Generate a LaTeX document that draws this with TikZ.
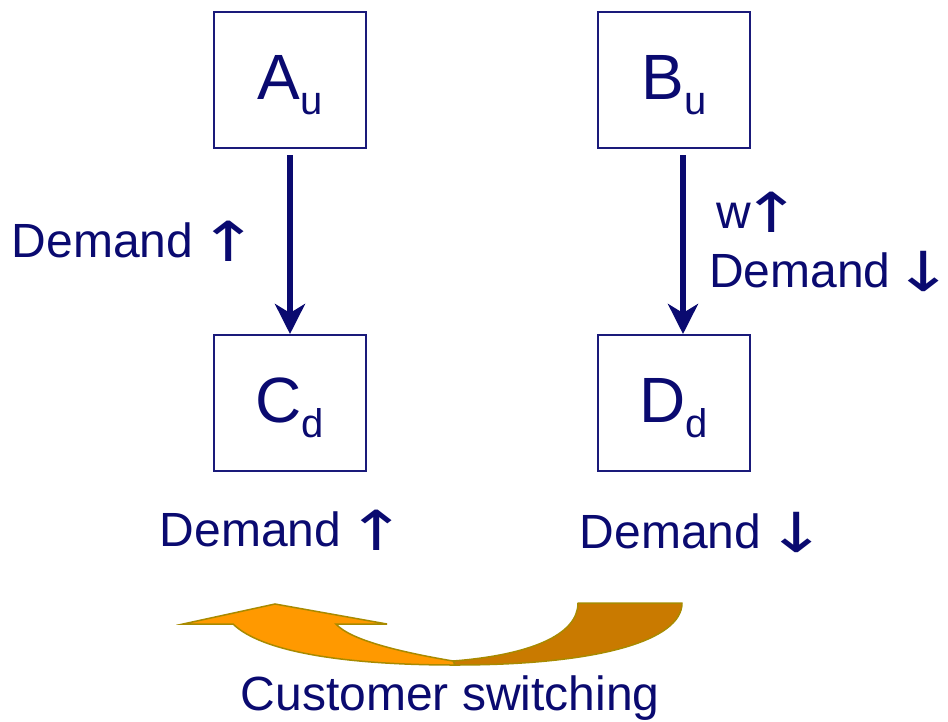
\documentclass[tikz,border=0pt]{standalone}
\usepackage{fontspec}
\setmainfont{Liberation Sans}
\newfontfamily\arrfont{DejaVu Sans}
\usetikzlibrary{arrows.meta}
\definecolor{navy}{HTML}{0A0A70}
\definecolor{boxc}{HTML}{1A1A7A}
\definecolor{orng}{HTML}{FF9900}
\definecolor{dorng}{HTML}{C97A00}
\definecolor{olive}{HTML}{A88A00}
\newcommand{\arrglyph}[1]{\raisebox{-4pt}{\makebox[26pt][c]{\scalebox{1.5}[1.15]{\arrfont #1}}}}
\newcommand{\myup}{\arrglyph{↑}}
\newcommand{\mydown}{\arrglyph{↓}}
\begin{document}
\begin{tikzpicture}[x=1pt,y=-1pt,
  box/.style={draw=boxc, line width=2pt, minimum width=152pt, minimum height=136pt,
    inner sep=0pt, text=navy, font=\fontsize{64}{64}\selectfont,
    text height=46pt, text depth=8pt, anchor=north west},
  lbl/.style={text=navy, font=\fontsize{48}{48}\selectfont, anchor=base west, inner sep=0pt},
  link/.style={draw=navy, line width=6pt, shorten <=6pt,
    -{Stealth[length=30pt,width=30pt,inset=9pt]}}]
\useasboundingbox (0,0) rectangle (948,721);
\newcommand{\subs}[1]{\raisebox{-15pt}{\fontsize{40}{40}\selectfont #1}}
\node[box] (A) at (213,11) {A\subs{u}};
\node[box] (B) at (597,11) {B\subs{u}};
\node[box] (C) at (213,334) {C\subs{d}};
\node[box] (D) at (597,334) {D\subs{d}};
\draw[link] (A.south) -- (C.north);
\draw[link] ([xshift=9pt]B.south) -- ([xshift=9pt]D.north);
\node[lbl] (l1) at (11.5,257) {Demand\hspace{23pt}\myup};
\node[lbl] (l2) at (716,228) {w\hspace{8pt}\myup};
\node[lbl] (l3) at (709,287) {Demand\hspace{20pt}\mydown};
\node[lbl] (l4) at (159.5,546) {Demand\hspace{23pt}\myup};
\node[lbl] (l5) at (579.5,548) {Demand\hspace{23pt}\mydown};
\node[lbl] (l6) at (240.7,710) {Customer switching};
% curved arrow
\filldraw[fill=dorng, draw=olive, line width=1.5pt, line join=round]
  (578,603) -- (682,603) .. controls (682,640) and (600,665) .. (455,665)
  -- (453,661) .. controls (530,655) and (578,635) .. (578,603) -- cycle;
\filldraw[fill=orng, draw=olive, line width=1.5pt, line join=miter]
  (453,661) .. controls (400,652) and (350,640) .. (336,624) -- (387,624)
  -- (275,604) -- (183,624) -- (233,624)
  .. controls (265,655) and (360,665) .. (455,665) -- cycle;
\end{tikzpicture}
\end{document}
